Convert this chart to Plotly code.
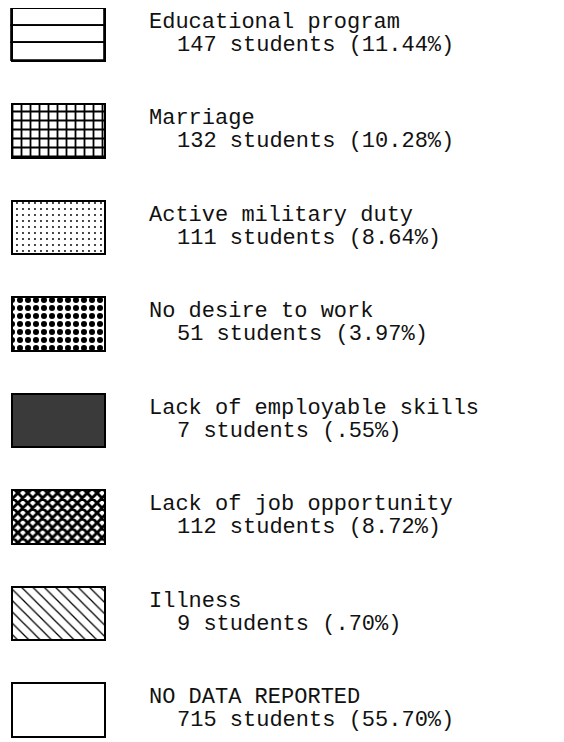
import plotly.graph_objects as go

# ---- data ----
categories = [
    "Educational program",
    "Marriage",
    "Active military duty",
    "No desire to work",
    "Lack of employable skills",
    "Lack of job opportunity",
    "Illness",
    "NO DATA REPORTED",
]
students = [147, 132, 111, 51, 7, 112, 9, 715]
percent_labels = ["11.44%", "10.28%", "8.64%", "3.97%", ".55%", "8.72%", ".70%", "55.70%"]

# ---- styles ----
patterns = [
    None,  # drawn as three stacked bands (box with two inner rules)
    dict(shape="+", size=9, solidity=0.36, fgcolor="#000", bgcolor="white", fgopacity=1),
    dict(shape=".", size=6, solidity=0.08, fgcolor="#000", bgcolor="white", fgopacity=1),
    dict(shape=".", size=8, solidity=0.45, fgcolor="#000", bgcolor="white", fgopacity=1),
    dict(shape="", fgcolor="#3a3a3a", bgcolor="#3a3a3a"),
    dict(shape="x", size=7, solidity=0.65, fgcolor="#000", bgcolor="white", fgopacity=1),
    dict(shape="\\", size=8, solidity=0.16, fgcolor="#000", bgcolor="white", fgopacity=1),
    dict(shape="", fgcolor="white", bgcolor="white"),
]
fills = ["white", "white", "white", "white", "#3a3a3a", "white", "white", "white"]

PAGE_OFF = 8  # default body margin of the html page
W, H = 564 - PAGE_OFF, 742 - PAGE_OFF
SW_X0, SW_W = 12 - PAGE_OFF, 93
ROW0, ROW_STEP = 34.5 - PAGE_OFF, 96.5
BAR_W = 0.55
n = len(categories)
rows = list(range(n))

fig = go.Figure()
for i in rows:
    if patterns[i] is None:
        band = BAR_W / 3
        for k in (-1, 0, 1):
            fig.add_trace(go.Bar(
                y=[i + k * band], x=[SW_W], base=[SW_X0], orientation="h", width=band,
                marker=dict(color="white", line=dict(color="#000", width=1.8)),
                hoverinfo="skip", showlegend=False,
            ))
        fig.add_trace(go.Bar(
            y=[i], x=[SW_W], base=[SW_X0], orientation="h", width=BAR_W,
            marker=dict(color="rgba(0,0,0,0)", line=dict(color="#000", width=2)),
            hoverinfo="skip", showlegend=False,
        ))
        continue
    fig.add_trace(go.Bar(
        y=[i], x=[SW_W], base=[SW_X0], orientation="h", width=BAR_W,
        marker=dict(color=fills[i], pattern=patterns[i],
                    line=dict(color="#000", width=2)),
        hoverinfo="skip", showlegend=False,
    ))

FONT = dict(family="Liberation Mono, Courier New, monospace", size=22, color="#111")
for i in rows:
    fig.add_annotation(x=147 - PAGE_OFF, y=i, xref="x", yref="y", text=categories[i],
                       showarrow=False, xanchor="left", yanchor="middle",
                       yshift=12.5, font=FONT)
    fig.add_annotation(x=175 - PAGE_OFF, y=i, xref="x", yref="y",
                       text=f"{students[i]} students ({percent_labels[i]})",
                       showarrow=False, xanchor="left", yanchor="middle",
                       yshift=-10.5, font=FONT)

top = -ROW0 / ROW_STEP
bottom = (H - ROW0) / ROW_STEP
fig.update_layout(
    width=W, height=H, margin=dict(l=0, r=0, t=0, b=0),
    paper_bgcolor="white", plot_bgcolor="white",
    xaxis=dict(range=[0, W], visible=False, fixedrange=True),
    yaxis=dict(range=[bottom, top], visible=False, fixedrange=True),
    barmode="overlay", bargap=0,
)
fig.write_html("out.html", config={"displayModeBar": False})
